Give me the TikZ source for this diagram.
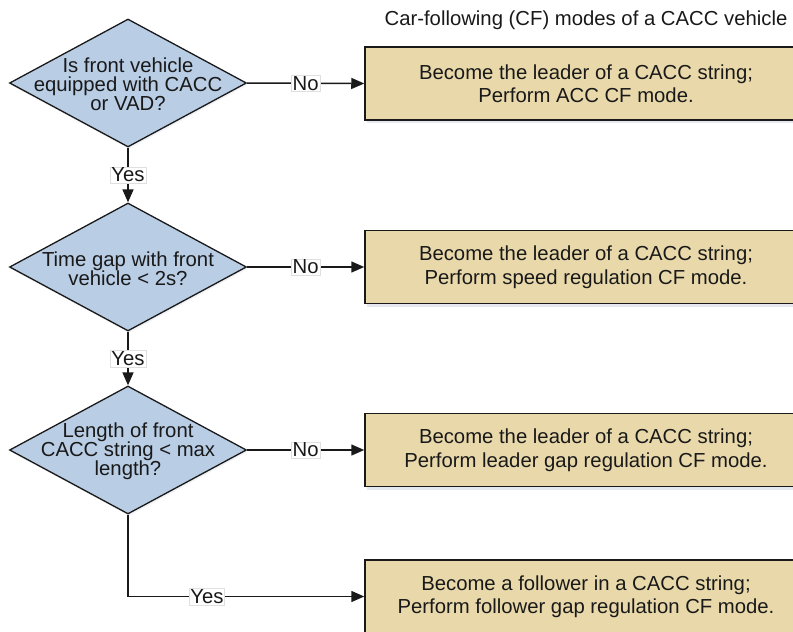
\documentclass[tikz,border=0pt]{standalone}
\usepackage{fontspec}
\setmainfont{Liberation Sans}
\usetikzlibrary{shapes.geometric,arrows.meta,shadows}
\definecolor{qblue}{RGB}{185,205,229}
\definecolor{atan}{RGB}{232,216,170}
\definecolor{ink}{RGB}{25,25,25}
\definecolor{shade}{RGB}{150,165,190}
\begin{document}
\begin{tikzpicture}[x=1pt,y=-1pt,
  every node/.style={font=\fontsize{20.3}{20.5}\selectfont, text=ink},
  question/.style={diamond, draw=ink, line width=1.3pt, fill=qblue, inner sep=0pt,
     minimum width=237pt, minimum height=128pt,
     drop shadow={shadow xshift=1pt, shadow yshift=-2pt, opacity=0.15, fill=shade}},
  qtext/.style={align=center, inner sep=0pt, font=\fontsize{20.3}{19}\selectfont, yshift=-1.5pt},
  action/.style={rectangle, draw=ink, line width=1.5pt, fill=atan, align=center,
     minimum width=442pt, minimum height=73pt, inner sep=0pt,
     font=\fontsize{20.3}{23.5}\selectfont,
     drop shadow={shadow xshift=1.5pt, shadow yshift=-3pt, opacity=0.25, fill=shade}},
  flow/.style={draw=ink, line width=1.5pt, -{Triangle[length=13pt,width=11pt]}},
  answer/.style={fill=white, draw=gray!25, line width=0.4pt, inner sep=1.2pt}
]
\useasboundingbox (0,0) rectangle (793,632);
\clip (0,0) rectangle (793,632);

\node[inner sep=0pt] (title) at (586,20) {Car-following (CF) modes of a CACC vehicle};

\node[question] (q1) at (128,83) {};
\node[qtext] (q1t) at (q1.center) {Is front vehicle\\equipped with CACC\\or VAD?};
\node[question] (q2) at (128,267) {};
\node[qtext] (q2t) at (q2.center) {Time gap with front\\vehicle < 2s?};
\node[question] (q3) at (128,450) {};
\node[qtext] (q3t) at (q3.center) {Length of front\\CACC string < max\\length?};

\node[action] (a1) at (586,83.5) {Become the leader of a CACC string;\\Perform ACC CF mode.};
\node[action] (a2) at (586,267) {Become the leader of a CACC string;\\Perform speed regulation CF mode.};
\node[action] (a3) at (586,450) {Become the leader of a CACC string;\\Perform leader gap regulation CF mode.};
\node[action] (a4) at (586,596.5) {Become a follower in a CACC string;\\Perform follower gap regulation CF mode.};

\draw[flow] (q1.east) -- node[answer] {No} (a1.west);
\draw[flow] (q2.east) -- node[answer] {No} (a2.west);
\draw[flow] (q3.east) -- node[answer] {No} (a3.west);
\draw[flow] (q1.south) -- node[answer] {Yes} (q2.north);
\draw[flow] (q2.south) -- node[answer] {Yes} (q3.north);
\draw[flow] (q3.south) |- node[answer, pos=0.667] {Yes} (a4.west);
\end{tikzpicture}
\end{document}
